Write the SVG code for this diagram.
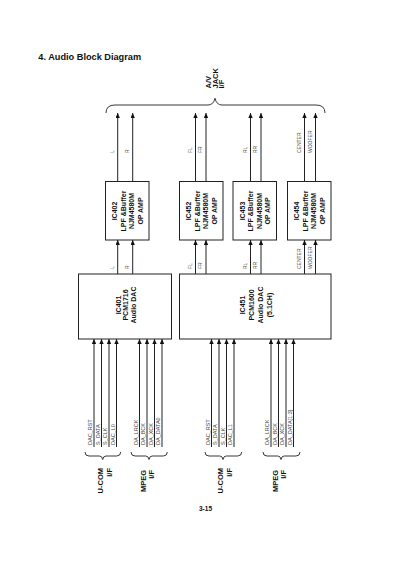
<svg xmlns="http://www.w3.org/2000/svg" width="400" height="566" viewBox="0 0 400 566">
<style>
  .box{fill:#fff;stroke:#222;stroke-width:1}
  .bt{font-family:"Liberation Sans",Arial,sans-serif;font-weight:bold;font-size:7px;fill:#111;text-anchor:middle}
  .wire{stroke:#222;stroke-width:1;fill:none}
  .brace{stroke:#222;stroke-width:0.9;fill:none}
  .sl{font-family:"Liberation Sans",Arial,sans-serif;font-size:5px;fill:#444}
  .big{font-family:"Liberation Sans",Arial,sans-serif;font-weight:bold;font-size:7.5px;fill:#111}
</style>
<defs>
  <marker id="ah" markerUnits="userSpaceOnUse" viewBox="0 -2.2 5 4.4" refX="5" refY="0" markerWidth="5" markerHeight="4.4" orient="auto">
    <path d="M0,-2.2 L5,0 L0,2.2 Z" fill="#111"/>
  </marker>
</defs>
<rect width="400" height="566" fill="#fff"/>
<text x="38.3" y="60" font-family="Liberation Sans,Arial,sans-serif" font-weight="bold" font-size="9.2" fill="#111">4. Audio Block Diagram</text>

<g id="avjack">
  <path class="brace" d="M106,113 Q106,105 115,105 L208,105 Q213.5,105 215,98.3 Q216.5,105 222,105 L316,105 Q325,105 325,113"/>
  <g class="big">
    <text transform="translate(211,88.5) rotate(-90)">A/V</text>
    <text transform="translate(217.6,88.5) rotate(-90)">JACK</text>
    <text transform="translate(224.2,88.5) rotate(-90)">I/F</text>
  </g>
</g>

<g id="IC402">
  <rect class="box" x="105.5" y="181.5" width="43.5" height="58.5"/>
  <text class="bt" transform="translate(117,211) rotate(-90)">IC402</text>
  <text class="bt" transform="translate(125.5,211) rotate(-90)">LPF &amp;Buffer</text>
  <text class="bt" transform="translate(134,211) rotate(-90)">NJM4580M</text>
  <text class="bt" transform="translate(142.5,211) rotate(-90)">OP AMP</text>
</g>
<g id="IC452">
  <rect class="box" x="179.5" y="181.5" width="43.5" height="58.5"/>
  <text class="bt" transform="translate(191,211) rotate(-90)">IC452</text>
  <text class="bt" transform="translate(199.5,211) rotate(-90)">LPF &amp;Buffer</text>
  <text class="bt" transform="translate(208,211) rotate(-90)">NJM4580M</text>
  <text class="bt" transform="translate(216.5,211) rotate(-90)">OP AMP</text>
</g>
<g id="IC453">
  <rect class="box" x="233" y="181.5" width="43.5" height="58.5"/>
  <text class="bt" transform="translate(244.5,211) rotate(-90)">IC453</text>
  <text class="bt" transform="translate(253,211) rotate(-90)">LPF &amp;Buffer</text>
  <text class="bt" transform="translate(261.5,211) rotate(-90)">NJM4580M</text>
  <text class="bt" transform="translate(270,211) rotate(-90)">OP AMP</text>
</g>
<g id="IC454">
  <rect class="box" x="287.5" y="181.5" width="43.5" height="58.5"/>
  <text class="bt" transform="translate(299,211) rotate(-90)">IC454</text>
  <text class="bt" transform="translate(307.5,211) rotate(-90)">LPF &amp;Buffer</text>
  <text class="bt" transform="translate(316,211) rotate(-90)">NJM4580M</text>
  <text class="bt" transform="translate(324.5,211) rotate(-90)">OP AMP</text>
</g>
<g id="IC401">
  <rect class="box" x="78.5" y="274" width="93" height="65"/>
  <text class="bt" transform="translate(120.5,305) rotate(-90)">IC401</text>
  <text class="bt" transform="translate(128,305) rotate(-90)">PCM1716</text>
  <text class="bt" transform="translate(135.5,305) rotate(-90)">Audio DAC</text>
</g>
<g id="IC451">
  <rect class="box" x="179.5" y="274" width="151.5" height="65"/>
  <text class="bt" transform="translate(244.5,305) rotate(-90)">IC451</text>
  <text class="bt" transform="translate(253.5,305) rotate(-90)">PCM1600</text>
  <text class="bt" transform="translate(262.5,305) rotate(-90)">Audio DAC</text>
  <text class="bt" transform="translate(271.5,305) rotate(-90)">(5.1CH)</text>
</g>

<g id="connectors">
  <g class="wire" marker-end="url(#ah)">
    <line x1="117.7" y1="181.5" x2="117.7" y2="113"/>
    <line x1="132.7" y1="181.5" x2="132.7" y2="113"/>
    <line x1="195.5" y1="181.5" x2="195.5" y2="113"/>
    <line x1="206" y1="181.5" x2="206" y2="113"/>
    <line x1="250.5" y1="181.5" x2="250.5" y2="113"/>
    <line x1="261" y1="181.5" x2="261" y2="113"/>
    <line x1="304.5" y1="181.5" x2="304.5" y2="113"/>
    <line x1="315.5" y1="181.5" x2="315.5" y2="113"/>
    <line x1="117.7" y1="274" x2="117.7" y2="240"/>
    <line x1="132.7" y1="274" x2="132.7" y2="240"/>
    <line x1="195.5" y1="274" x2="195.5" y2="240"/>
    <line x1="206" y1="274" x2="206" y2="240"/>
    <line x1="250.5" y1="274" x2="250.5" y2="240"/>
    <line x1="261" y1="274" x2="261" y2="240"/>
    <line x1="304.5" y1="274" x2="304.5" y2="240"/>
    <line x1="315.5" y1="274" x2="315.5" y2="240"/>
    <line x1="94" y1="447" x2="94" y2="339"/>
    <line x1="101.5" y1="447" x2="101.5" y2="339"/>
    <line x1="109" y1="447" x2="109" y2="339"/>
    <line x1="116.5" y1="447" x2="116.5" y2="339"/>
    <line x1="139.5" y1="447" x2="139.5" y2="339"/>
    <line x1="147" y1="447" x2="147" y2="339"/>
    <line x1="154.5" y1="447" x2="154.5" y2="339"/>
    <line x1="162" y1="447" x2="162" y2="339"/>
    <line x1="211.5" y1="447" x2="211.5" y2="339"/>
    <line x1="219" y1="447" x2="219" y2="339"/>
    <line x1="226.5" y1="447" x2="226.5" y2="339"/>
    <line x1="234" y1="447" x2="234" y2="339"/>
    <line x1="271" y1="447" x2="271" y2="339"/>
    <line x1="278.5" y1="447" x2="278.5" y2="339"/>
    <line x1="286" y1="447" x2="286" y2="339"/>
    <line x1="293.5" y1="447" x2="293.5" y2="339"/>
  </g>
  <g class="sl">
    <text transform="translate(113.9,153) rotate(-90)">L</text>
    <text transform="translate(128.9,153) rotate(-90)">R</text>
    <text transform="translate(191.7,153) rotate(-90)">FL</text>
    <text transform="translate(202.2,153) rotate(-90)">FR</text>
    <text transform="translate(246.7,153) rotate(-90)">RL</text>
    <text transform="translate(257.2,153) rotate(-90)">RR</text>
    <text transform="translate(300.7,153) rotate(-90)">CENTER</text>
    <text transform="translate(311.7,153) rotate(-90)">WOOFER</text>
    <text transform="translate(113.9,269) rotate(-90)">L</text>
    <text transform="translate(128.9,269) rotate(-90)">R</text>
    <text transform="translate(191.7,269) rotate(-90)">FL</text>
    <text transform="translate(202.2,269) rotate(-90)">FR</text>
    <text transform="translate(246.7,269) rotate(-90)">RL</text>
    <text transform="translate(257.2,269) rotate(-90)">RR</text>
    <text transform="translate(300.7,269) rotate(-90)">CENTER</text>
    <text transform="translate(311.7,269) rotate(-90)">WOOFER</text>
  </g>
  <g class="sl" style="font-size:5.5px">
    <text transform="translate(92,445) rotate(-90)">DAC_RST</text>
    <text transform="translate(99.5,445) rotate(-90)">S_DATA</text>
    <text transform="translate(107,445) rotate(-90)">S_CLK</text>
    <text transform="translate(114.5,445) rotate(-90)">DAC_L0</text>
    <text transform="translate(137.5,445) rotate(-90)">DA_LRCK</text>
    <text transform="translate(145,445) rotate(-90)">DA_BCK</text>
    <text transform="translate(152.5,445) rotate(-90)">DA_XCK</text>
    <text transform="translate(160,445) rotate(-90)">DA_DATA0</text>
    <text transform="translate(209.5,445) rotate(-90)">DAC_RST</text>
    <text transform="translate(217,445) rotate(-90)">S_DATA</text>
    <text transform="translate(224.5,445) rotate(-90)">S_CLK</text>
    <text transform="translate(232,445) rotate(-90)">DAC_L1</text>
    <text transform="translate(269,445) rotate(-90)">DA_LRCK</text>
    <text transform="translate(276.5,445) rotate(-90)">DA_BCK</text>
    <text transform="translate(284,445) rotate(-90)">DA_XCK</text>
    <text transform="translate(291.5,445) rotate(-90)">DA_DATA[1:3]</text>
  </g>
</g>

<g id="ucom1">
  <path class="brace" d="M85,452 Q85,456 89,456 L99.5,456 Q102.2,456 102.7,459.5 Q103.2,456 106,456 L116.7,456 Q120.7,456 120.7,452"/>
  <text class="big" text-anchor="end" transform="translate(103.4,468) rotate(-90)">U-COM</text>
  <text class="big" text-anchor="end" transform="translate(112,468) rotate(-90)">I/F</text>
</g>
<g id="mpeg1">
  <path class="brace" d="M131,452 Q131,456 135,456 L145.8,456 Q148.5,456 149,459.5 Q149.5,456 152.2,456 L163.3,456 Q167.3,456 167.3,452"/>
  <text class="big" text-anchor="end" transform="translate(146,470) rotate(-90)">MPEG</text>
  <text class="big" text-anchor="end" transform="translate(153.7,470) rotate(-90)">I/F</text>
</g>
<g id="ucom2">
  <path class="brace" d="M205,452 Q205,456 209,456 L219.8,456 Q222.5,456 223,459.5 Q223.5,456 226.2,456 L237.7,456 Q241.7,456 241.7,452"/>
  <text class="big" text-anchor="end" transform="translate(223.4,468) rotate(-90)">U-COM</text>
  <text class="big" text-anchor="end" transform="translate(232,468) rotate(-90)">I/F</text>
</g>
<g id="mpeg2">
  <path class="brace" d="M263,452 Q263,456 267,456 L277.8,456 Q280.5,456 281,459.5 Q281.5,456 284.2,456 L296,456 Q300,456 300,452"/>
  <text class="big" text-anchor="end" transform="translate(277.7,470) rotate(-90)">MPEG</text>
  <text class="big" text-anchor="end" transform="translate(285.7,470) rotate(-90)">I/F</text>
</g>

<text x="205.5" y="510.5" text-anchor="middle" font-family="Liberation Sans,Arial,sans-serif" font-weight="bold" font-size="6.5" fill="#111">3-15</text>
</svg>
